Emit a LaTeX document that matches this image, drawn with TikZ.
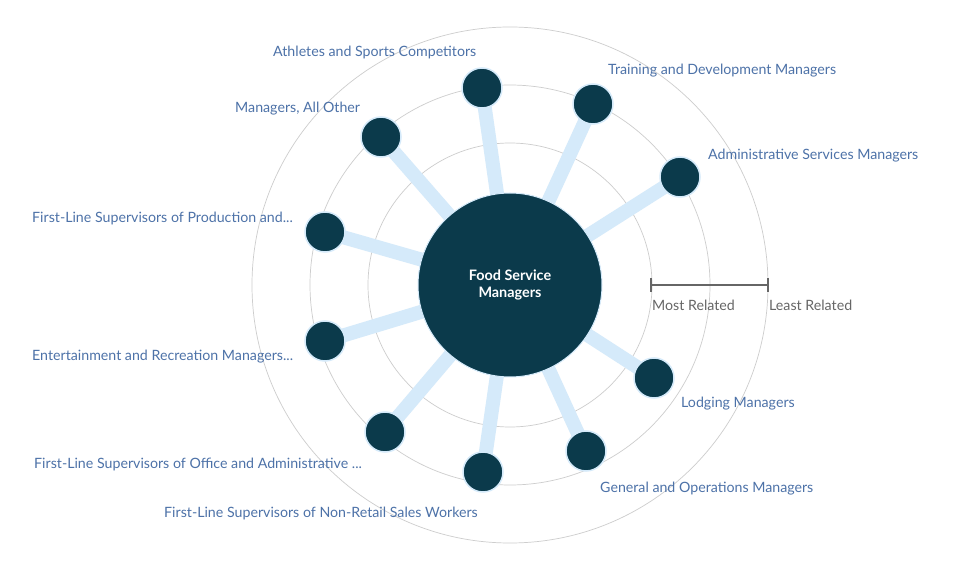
\documentclass[tikz,border=0pt]{standalone}
\usepackage{fontspec}
\setmainfont{Lato}
\pgfdeclarelayer{bg}
\pgfdeclarelayer{rings}
\pgfsetlayers{rings,bg,main}
\definecolor{darkteal}{HTML}{0B3A4B}
\definecolor{linkblue}{HTML}{D5EAFA}
\definecolor{labelblue}{HTML}{4D72A8}
\definecolor{ringgray}{HTML}{CDCDCD}
\definecolor{scalegray}{HTML}{666666}
\tikzset{
  occ/.style={circle, fill=darkteal, draw=linkblue, line width=1.5pt, minimum size=40pt, inner sep=0pt},
  hub/.style={circle, fill=darkteal, draw=linkblue, line width=1pt, minimum size=184pt, inner sep=0pt, text=white, font=\fontsize{14.4}{16.5}\selectfont\bfseries, align=center},
  conn/.style={linkblue, line width=14pt},
  ring/.style={ringgray, line width=0.7pt},
  lab/.style={anchor=west, text=labelblue, font=\fontsize{14.2}{16}\selectfont, inner sep=0pt, yshift=-2pt},
  scalelab/.style={anchor=west, text=scalegray, font=\fontsize{14.2}{16}\selectfont, inner sep=0pt, yshift=-1pt},
  scalebar/.style={scalegray, line width=2.5pt}
}
\begin{document}
\begin{tikzpicture}[x=1pt,y=-1pt]
\useasboundingbox (0,0) rectangle (967,569);
\node[hub] (c) at (510,285) {Food Service\\Managers};
\begin{pgfonlayer}{rings}
\fill[white] (0,0) rectangle (967,569);
\draw[ring] (c.center) circle[radius=142];
\draw[ring] (c.center) circle[radius=200];
\draw[ring] (c.center) circle[radius=258];
\end{pgfonlayer}
\node[occ] (n1) at (482,88) {};
\node[occ] (n2) at (593,104) {};
\node[occ] (n3) at (680,177) {};
\node[occ] (n4) at (381,137) {};
\node[occ] (n5) at (325,232) {};
\node[occ] (n6) at (325,341) {};
\node[occ] (n7) at (385,432) {};
\node[occ] (n8) at (483,472) {};
\node[occ] (n9) at (586,451) {};
\node[occ] (n10) at (654,378) {};
\begin{pgfonlayer}{bg}
\foreach \n in {n1,n2,n3,n4,n5,n6,n7,n8,n9,n10}
  \draw[conn] (c.center) -- (\n.center);
\end{pgfonlayer}
\node[lab] (l1) at (273,50) {Athletes and Sports Competitors};
\node[lab] (l2) at (608,69) {Training and Development Managers};
\node[lab] (l3) at (708,154) {Administrative Services Managers};
\node[lab] (l4) at (235,107) {Managers, All Other};
\node[lab] (l5) at (32,216) {First-Line Supervisors of Production and...};
\node[lab] (l6) at (32,355) {Entertainment and Recreation Managers...};
\node[lab] (l7) at (34,462) {First-Line Supervisors of Office and Administrative ...};
\node[lab] (l8) at (164,511) {First-Line Supervisors of Non-Retail Sales Workers};
\node[lab] (l9) at (600,487) {General and Operations Managers};
\node[lab] (l10) at (681,402) {Lodging Managers};
\coordinate (s1) at (651,285);
\coordinate (s2) at (768,285);
\draw[scalebar] (s1) -- (s2);
\draw[scalebar] ([yshift=-7]s1) -- ([yshift=7]s1);
\draw[scalebar] ([yshift=-7]s2) -- ([yshift=7]s2);
\node[scalelab] (m1) at (652,304) {Most Related};
\node[scalelab] (m2) at (769,304) {Least Related};
\end{tikzpicture}
\end{document}
